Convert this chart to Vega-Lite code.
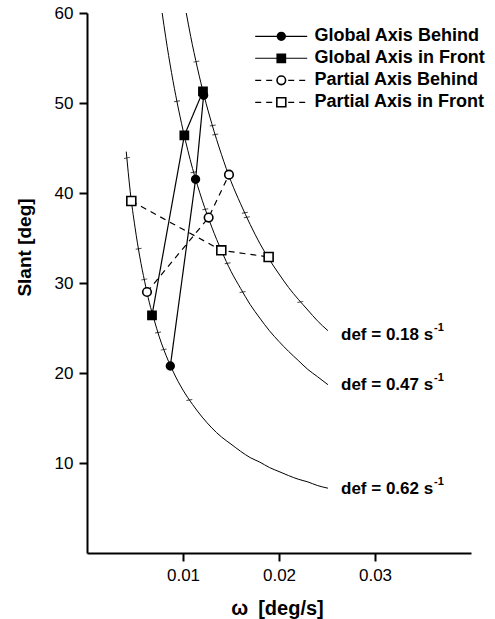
{
  "$schema": "https://vega.github.io/schema/vega-lite/v6.json",
  "width": 384,
  "height": 540,
  "autosize": {"type": "none"},
  "padding": {"left": 87, "top": 13, "right": 24, "bottom": 66},
  "config": {
    "view": {"stroke": null},
    "font": "Liberation Sans",
    "axis": {"grid": false, "domainColor": "black", "domainWidth": 2, "tickColor": "black", "tickWidth": 2, "tickSize": 8,
             "labelFont": "Liberation Sans", "labelFontSize": 17, "labelColor": "black",
             "titleFont": "Liberation Sans", "titleFontSize": 19, "titleFontWeight": "bold", "titleColor": "black"}
  },
  "datasets": {
    "curves": [
      {"curve": "A", "w": 0.01034, "s": 60.0}, {"curve": "A", "w": 0.0108, "s": 57.4}, {"curve": "A", "w": 0.0115, "s": 53.9},
      {"curve": "A", "w": 0.0122, "s": 50.8}, {"curve": "A", "w": 0.013, "s": 47.7}, {"curve": "A", "w": 0.014, "s": 44.3},
      {"curve": "A", "w": 0.015, "s": 41.3}, {"curve": "A", "w": 0.016, "s": 38.8}, {"curve": "A", "w": 0.017, "s": 36.5},
      {"curve": "A", "w": 0.018, "s": 34.4}, {"curve": "A", "w": 0.019, "s": 32.6}, {"curve": "A", "w": 0.020, "s": 31.0},
      {"curve": "A", "w": 0.021, "s": 29.5}, {"curve": "A", "w": 0.022, "s": 28.2}, {"curve": "A", "w": 0.023, "s": 27.0},
      {"curve": "A", "w": 0.024, "s": 25.8}, {"curve": "A", "w": 0.0251, "s": 24.7},
      {"curve": "B", "w": 0.00783, "s": 60.0}, {"curve": "B", "w": 0.0082, "s": 57.3}, {"curve": "B", "w": 0.0088, "s": 53.4},
      {"curve": "B", "w": 0.0094, "s": 50.0}, {"curve": "B", "w": 0.010, "s": 47.0}, {"curve": "B", "w": 0.011, "s": 42.7},
      {"curve": "B", "w": 0.012, "s": 39.2}, {"curve": "B", "w": 0.013, "s": 36.2}, {"curve": "B", "w": 0.014, "s": 33.6},
      {"curve": "B", "w": 0.015, "s": 31.3}, {"curve": "B", "w": 0.016, "s": 29.4}, {"curve": "B", "w": 0.017, "s": 27.6},
      {"curve": "B", "w": 0.018, "s": 26.1}, {"curve": "B", "w": 0.019, "s": 24.7}, {"curve": "B", "w": 0.020, "s": 23.5},
      {"curve": "B", "w": 0.021, "s": 22.4}, {"curve": "B", "w": 0.022, "s": 21.4}, {"curve": "B", "w": 0.023, "s": 20.4},
      {"curve": "B", "w": 0.024, "s": 19.6}, {"curve": "B", "w": 0.0251, "s": 18.7},
      {"curve": "C", "w": 0.00409, "s": 44.6}, {"curve": "C", "w": 0.0045, "s": 40.2}, {"curve": "C", "w": 0.005, "s": 36.2},
      {"curve": "C", "w": 0.0055, "s": 32.9}, {"curve": "C", "w": 0.006, "s": 30.2}, {"curve": "C", "w": 0.0065, "s": 27.8},
      {"curve": "C", "w": 0.007, "s": 25.9}, {"curve": "C", "w": 0.0075, "s": 24.1}, {"curve": "C", "w": 0.008, "s": 22.6},
      {"curve": "C", "w": 0.009, "s": 20.1}, {"curve": "C", "w": 0.010, "s": 18.1}, {"curve": "C", "w": 0.011, "s": 16.5},
      {"curve": "C", "w": 0.012, "s": 15.1}, {"curve": "C", "w": 0.013, "s": 13.9}, {"curve": "C", "w": 0.014, "s": 12.9},
      {"curve": "C", "w": 0.015, "s": 12.1}, {"curve": "C", "w": 0.016, "s": 11.3}, {"curve": "C", "w": 0.017, "s": 10.6},
      {"curve": "C", "w": 0.018, "s": 10.1}, {"curve": "C", "w": 0.019, "s": 9.5}, {"curve": "C", "w": 0.020, "s": 9.05},
      {"curve": "C", "w": 0.021, "s": 8.6}, {"curve": "C", "w": 0.022, "s": 8.2}, {"curve": "C", "w": 0.023, "s": 7.9},
      {"curve": "C", "w": 0.024, "s": 7.5}, {"curve": "C", "w": 0.0251, "s": 7.2}
    ],
    "curveTicks": [
      {"w": 0.01139, "s": 54.6}, {"w": 0.0131, "s": 47.5}, {"w": 0.01336, "s": 46.5}, {"w": 0.01644, "s": 37.8},
      {"w": 0.01665, "s": 37.3}, {"w": 0.02222, "s": 27.9},
      {"w": 0.009375, "s": 50.2}, {"w": 0.0111, "s": 42.3}, {"w": 0.01232, "s": 38.2}, {"w": 0.01465, "s": 32.2},
      {"w": 0.01621, "s": 29.0},
      {"w": 0.004167, "s": 43.9}, {"w": 0.005375, "s": 33.8}, {"w": 0.00597, "s": 30.4}, {"w": 0.0074, "s": 24.5},
      {"w": 0.00798, "s": 22.6}, {"w": 0.01066, "s": 17.0}
    ],
    "series": [
      {"series": "Global Axis Behind", "w": 0.00868, "s": 20.78},
      {"series": "Global Axis Behind", "w": 0.01131, "s": 41.52},
      {"series": "Global Axis Behind", "w": 0.01215, "s": 50.86},
      {"series": "Global Axis in Front", "w": 0.00677, "s": 26.41},
      {"series": "Global Axis in Front", "w": 0.01014, "s": 46.4},
      {"series": "Global Axis in Front", "w": 0.01208, "s": 51.3},
      {"series": "Partial Axis Behind", "w": 0.00625, "s": 29.0},
      {"series": "Partial Axis Behind", "w": 0.01267, "s": 37.27},
      {"series": "Partial Axis Behind", "w": 0.01479, "s": 42.04},
      {"series": "Partial Axis in Front", "w": 0.004615, "s": 39.11},
      {"series": "Partial Axis in Front", "w": 0.01399, "s": 33.63},
      {"series": "Partial Axis in Front", "w": 0.01892, "s": 32.89}
    ],
    "legendRows": [
      {"series": "Global Axis Behind", "x1": 0.01752, "x2": 0.02294, "xm": 0.02024, "xt": 0.0237, "y": 57.41},
      {"series": "Global Axis in Front", "x1": 0.01752, "x2": 0.02294, "xm": 0.02024, "xt": 0.0237, "y": 54.97},
      {"series": "Partial Axis Behind", "x1": 0.01752, "x2": 0.02294, "xm": 0.02024, "xt": 0.0237, "y": 52.52},
      {"series": "Partial Axis in Front", "x1": 0.01752, "x2": 0.02294, "xm": 0.02024, "xt": 0.0237, "y": 50.08}
    ],
    "labels": [
      {"label": "def = 0.18 s", "w": 0.02646, "s": 24.27},
      {"label": "def = 0.47 s", "w": 0.02646, "s": 18.63},
      {"label": "def = 0.62 s", "w": 0.02646, "s": 7.16}
    ]
  },
  "layer": [
    {
      "data": {"name": "curves"},
      "mark": {"type": "line", "color": "black", "strokeWidth": 1, "interpolate": "monotone", "clip": true},
      "encoding": {
        "x": {"field": "w", "type": "quantitative", "scale": {"domain": [0, 0.04], "nice": false, "zero": false},
              "axis": {"values": [0.01, 0.02, 0.03], "format": ".2f", "title": "ω\u2002[deg/s]", "labelPadding": 6,
                       "titleY": 55, "titleBaseline": "middle", "titleX": 190, "titleFontSize": 20}},
        "y": {"field": "s", "type": "quantitative", "scale": {"domain": [0, 60], "nice": false},
              "axis": {"values": [10, 20, 30, 40, 50, 60], "format": "d", "title": "Slant [deg]", "labelPadding": 6,
                       "titleX": -63, "titleY": 234, "titleBaseline": "middle", "titleAngle": -90, "titleAlign": "center"}},
        "detail": {"field": "curve"},
        "order": {"field": "w", "type": "quantitative"}
      }
    },
    {
      "data": {"name": "curveTicks"},
      "mark": {"type": "point", "shape": "stroke", "size": 36, "color": "black", "strokeWidth": 1, "angle": -10},
      "encoding": {
        "x": {"field": "w", "type": "quantitative"},
        "y": {"field": "s", "type": "quantitative"}
      }
    },
    {
      "data": {"name": "series"},
      "mark": {"type": "line", "color": "black", "strokeWidth": 1.2},
      "encoding": {
        "x": {"field": "w", "type": "quantitative"},
        "y": {"field": "s", "type": "quantitative"},
        "detail": {"field": "series"},
        "order": {"field": "w", "type": "quantitative"},
        "strokeDash": {"field": "series", "type": "nominal", "legend": null,
                       "scale": {"domain": ["Global Axis Behind", "Global Axis in Front", "Partial Axis Behind", "Partial Axis in Front"],
                                 "range": [[1, 0], [1, 0], [6, 5], [6, 5]]}}
      }
    },
    {
      "data": {"name": "series"},
      "mark": {"type": "point", "filled": true, "stroke": "black", "strokeWidth": 1.6, "opacity": 1},
      "encoding": {
        "x": {"field": "w", "type": "quantitative"},
        "y": {"field": "s", "type": "quantitative"},
        "shape": {"field": "series", "type": "nominal", "legend": null,
                  "scale": {"domain": ["Global Axis Behind", "Global Axis in Front", "Partial Axis Behind", "Partial Axis in Front"],
                            "range": ["circle", "square", "circle", "square"]}},
        "fill": {"field": "series", "type": "nominal", "legend": null,
                 "scale": {"domain": ["Global Axis Behind", "Global Axis in Front", "Partial Axis Behind", "Partial Axis in Front"],
                           "range": ["black", "black", "white", "white"]}},
        "size": {"field": "series", "type": "nominal", "legend": null,
                 "scale": {"domain": ["Global Axis Behind", "Global Axis in Front", "Partial Axis Behind", "Partial Axis in Front"],
                           "range": [60, 80, 60, 72]}}
      }
    },
    {
      "data": {"name": "legendRows"},
      "mark": {"type": "rule", "color": "black", "strokeWidth": 1.2},
      "encoding": {
        "x": {"field": "x1", "type": "quantitative"},
        "x2": {"field": "x2"},
        "y": {"field": "y", "type": "quantitative"},
        "strokeDash": {"field": "series", "type": "nominal", "legend": null,
                       "scale": {"domain": ["Global Axis Behind", "Global Axis in Front", "Partial Axis Behind", "Partial Axis in Front"],
                                 "range": [[1, 0], [1, 0], [5, 5], [5, 5]]}}
      }
    },
    {
      "data": {"name": "legendRows"},
      "mark": {"type": "point", "filled": true, "stroke": "black", "strokeWidth": 1.6, "opacity": 1},
      "encoding": {
        "x": {"field": "xm", "type": "quantitative"},
        "y": {"field": "y", "type": "quantitative"},
        "shape": {"field": "series", "type": "nominal", "legend": null,
                  "scale": {"domain": ["Global Axis Behind", "Global Axis in Front", "Partial Axis Behind", "Partial Axis in Front"],
                            "range": ["circle", "square", "circle", "square"]}},
        "fill": {"field": "series", "type": "nominal", "legend": null,
                 "scale": {"domain": ["Global Axis Behind", "Global Axis in Front", "Partial Axis Behind", "Partial Axis in Front"],
                           "range": ["black", "black", "white", "white"]}},
        "size": {"field": "series", "type": "nominal", "legend": null,
                 "scale": {"domain": ["Global Axis Behind", "Global Axis in Front", "Partial Axis Behind", "Partial Axis in Front"],
                           "range": [70, 80, 45, 60]}}
      }
    },
    {
      "data": {"name": "legendRows"},
      "mark": {"type": "text", "align": "left", "baseline": "middle", "fontSize": 18, "fontWeight": "bold", "color": "black", "font": "Liberation Sans"},
      "encoding": {
        "x": {"field": "xt", "type": "quantitative"},
        "y": {"field": "y", "type": "quantitative"},
        "text": {"field": "series"}
      }
    },
    {
      "data": {"name": "labels"},
      "mark": {"type": "text", "align": "left", "baseline": "middle", "fontSize": 17, "fontWeight": "bold", "color": "black", "font": "Liberation Sans"},
      "encoding": {
        "x": {"field": "w", "type": "quantitative"},
        "y": {"field": "s", "type": "quantitative"},
        "text": {"field": "label"}
      }
    },
    {
      "data": {"name": "labels"},
      "mark": {"type": "text", "align": "left", "baseline": "middle", "fontSize": 11, "fontWeight": "bold", "color": "black", "font": "Liberation Sans", "dx": 93, "dy": -7},
      "encoding": {
        "x": {"field": "w", "type": "quantitative"},
        "y": {"field": "s", "type": "quantitative"},
        "text": {"value": "-1"}
      }
    }
  ]
}
